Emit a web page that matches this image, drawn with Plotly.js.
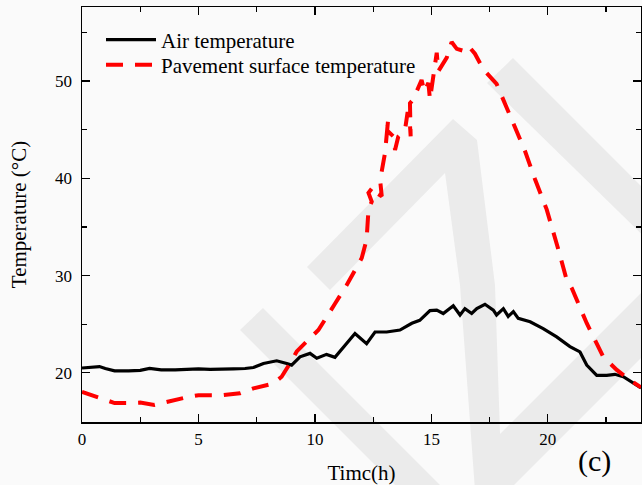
<!DOCTYPE html>
<html>
<head>
<meta charset="utf-8">
<script src="https://cdn.plot.ly/plotly-3.0.1.min.js"></script>
<style>
html,body{margin:0;padding:0;background:#fafafa;}
#chart{width:642px;height:485px;}
</style>
</head>
<body>
<div id="chart"></div>
<script>
// ---- data ----
var airTime = [0, 0.4, 0.75, 1.0, 1.4, 2.0, 2.5, 2.9, 3.4, 4.0, 4.5, 5.0, 5.5, 5.93, 6.5, 7.0, 7.36, 7.79, 8.36, 8.79, 9.0, 9.36, 9.79, 10.08, 10.5, 10.86, 11.36, 11.72, 12.22, 12.58, 13.08, 13.65, 14.16, 14.5, 14.94, 15.23, 15.51, 15.94, 16.23, 16.44, 16.73, 16.95, 17.3, 17.66, 17.8, 18.09, 18.3, 18.52, 18.73, 19.24, 19.8, 20.38, 20.95, 21.38, 21.67, 22.1, 22.53, 22.88, 23.24, 23.67, 24.0];
var airTemp = [20.5, 20.55, 20.65, 20.45, 20.2, 20.2, 20.25, 20.45, 20.3, 20.3, 20.35, 20.4, 20.35, 20.35, 20.4, 20.45, 20.55, 20.97, 21.24, 20.97, 20.8, 21.65, 22.0, 21.5, 21.9, 21.6, 23.0, 24.05, 23.0, 24.2, 24.2, 24.4, 25.1, 25.4, 26.4, 26.45, 26.1, 26.9, 25.95, 26.6, 26.1, 26.6, 27.05, 26.45, 25.95, 26.6, 25.8, 26.3, 25.6, 25.25, 24.55, 23.7, 22.7, 22.15, 20.8, 19.75, 19.75, 19.85, 19.6, 18.9, 18.45];

var paveTime = [0, 0.5, 1.0, 1.4, 2.0, 2.5, 3.1, 3.5, 4.0, 4.5, 5.0, 6.0, 6.78, 7.36, 8.21, 8.57, 8.93, 9.22, 9.72, 10.15, 10.86, 11.36, 12.01, 12.22, 12.3, 12.44, 12.3, 12.51, 12.65, 12.87, 12.8, 13.01, 13.15, 13.1, 13.37, 13.44, 13.58, 13.87, 13.98, 14.08, 14.11, 14.08, 14.22, 14.44, 14.58, 14.7, 14.87, 14.94, 15.08, 15.23, 15.3, 15.66, 15.87, 16.09, 16.37, 16.59, 16.87, 17.23, 17.8, 18.23, 19.02, 19.45, 19.95, 20.45, 20.81, 21.03, 21.67, 22.38, 22.96, 23.53, 24.0];
var paveTemp = [18.05, 17.6, 17.15, 16.9, 16.9, 16.95, 16.7, 16.95, 17.2, 17.5, 17.7, 17.7, 17.9, 18.4, 18.9, 19.6, 20.97, 22.2, 23.4, 24.4, 27.1, 29.0, 31.8, 33.7, 36.8, 37.6, 38.5, 39.15, 38.5, 38.15, 39.8, 42.6, 46.2, 44.9, 44.3, 42.9, 44.3, 45.0, 46.8, 45.5, 44.3, 47.7, 48.1, 49.4, 50.1, 48.9, 49.8, 48.1, 50.8, 52.9, 51.0, 52.4, 54.0, 53.3, 53.1, 53.6, 52.8, 51.2, 49.7, 47.3, 42.8, 39.9, 36.8, 32.7, 29.55, 28.7, 25.1, 21.65, 20.3, 19.25, 18.5];

var seriesNames = ["Air temperature", "Pavement surface temperature"];
var xTickVals = [0, 5, 10, 15, 20];
var yTickVals = [20, 30, 40, 50];

// ---- layout helpers (pixel -> paper for the background watermark) ----
var L = 82, R = 641, T = 7, B = 422;
function P(px, py) { return ((px - L) / (R - L)).toFixed(4) + ',' + ((B - py) / (B - T)).toFixed(4); }
function poly(pts) { return 'M' + pts.map(function (p) { return P(p[0], p[1]); }).join('L') + 'Z'; }
var wmColor = '#ebebeb';
var wm = [
  [[240,330],[263,308],[445,490],[400,490]],
  [[307,267],[453,119],[477,140],[495,285],[500,434],[660,274],[660,339],[509,490],[475,490],[460,285],[445,173],[330,290]],
  [[487,83],[513,58],[660,205],[660,252]]
];
var shapes = wm.map(function (pts) {
  return {type: 'path', xref: 'paper', yref: 'paper', path: poly(pts), fillcolor: wmColor, line: {width: 0}, layer: 'below'};
});

var font = 'Liberation Serif, Times New Roman, serif';

var traces = [
  {x: airTime, y: airTemp, name: seriesNames[0], mode: 'lines', type: 'scatter', legend: 'legend',
   line: {color: '#000000', width: 3.2}},
  {x: paveTime, y: paveTemp, name: seriesNames[1], mode: 'lines', type: 'scatter', legend: 'legend2',
   line: {color: '#ff0000', width: 4, dash: '17px,12px'}}
];

var axCommon = {
  showline: true, linecolor: '#000', linewidth: 1.5, mirror: 'ticks',
  ticks: 'inside', ticklen: 8, tickwidth: 1.2, tickcolor: '#000',
  showgrid: false, zeroline: false, automargin: false,
  tickfont: {family: font, size: 17, color: '#000'}
};

function legendAt(py) {
  return {x: (101 - L) / (R - L), y: (B - py) / (B - T), xanchor: 'left', yanchor: 'middle',
          bgcolor: 'rgba(0,0,0,0)', font: {family: font, size: 21, color: '#000'}, itemwidth: 50};
}

var layout = {
  width: 642, height: 485,
  margin: {l: L, r: 642 - R, t: T, b: 485 - B, autoexpand: false},
  paper_bgcolor: '#fafafa', plot_bgcolor: 'rgba(0,0,0,0)',
  showlegend: true,
  legend: legendAt(40),
  legend2: legendAt(65),
  xaxis: Object.assign({}, axCommon, {
    range: [0, 24], tickvals: xTickVals, ticktext: xTickVals.map(String), ticklabelstandoff: 1,
    minor: {dtick: 2.5, tick0: 0, ticks: 'inside', ticklen: 5, tickcolor: '#000', tickwidth: 1.2},
    title: {text: 'Timc(h)', font: {family: font, size: 21, color: '#000'}, standoff: 17}
  }),
  yaxis: Object.assign({}, axCommon, {
    range: [14.95, 57.6], tickvals: yTickVals, ticktext: yTickVals.map(String), ticklabelstandoff: 5,
    minor: {dtick: 5, tick0: 0, ticks: 'inside', ticklen: 5, tickcolor: '#000', tickwidth: 1.2},
    title: {text: 'Temperature (°C)', font: {family: font, size: 21, color: '#000'}, standoff: 22}
  }),
  shapes: shapes,
  annotations: [{text: '(c)', xref: 'paper', yref: 'paper', x: (594 - L) / (R - L), y: (B - 461) / (B - T),
                 xanchor: 'center', yanchor: 'middle',
                 showarrow: false, font: {family: font, size: 30, color: '#000'}}]
};

Plotly.newPlot('chart', traces, layout, {displayModeBar: false, staticPlot: true});
</script>
</body>
</html>
